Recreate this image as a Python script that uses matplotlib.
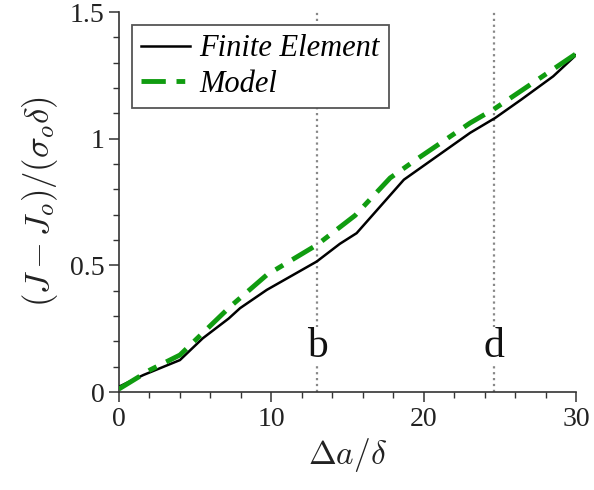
import matplotlib
matplotlib.use('Agg')
import matplotlib.pyplot as plt
from matplotlib.ticker import MultipleLocator, FuncFormatter

plt.rcParams['font.family'] = 'Liberation Serif'
plt.rcParams['mathtext.fontset'] = 'cm'

# Finite element result (black)
fe_x = [0, 1.6, 4.0, 5.5, 7.2, 7.95, 9.7, 12.98, 14.5, 15.6, 18.7, 23.05, 24.7, 26.4, 28.5, 30]
fe_y = [0.021, 0.067, 0.126, 0.212, 0.29, 0.331, 0.403, 0.515, 0.585, 0.627, 0.838, 1.023, 1.082, 1.154, 1.246, 1.33]

# Model (green)
mod_x = [0, 2.04, 4.0, 7.3, 9.7, 13.0, 15.5, 17.8, 19.5, 23.05, 24.7, 30]
mod_y = [0.012, 0.087, 0.146, 0.337, 0.462, 0.581, 0.697, 0.845, 0.917, 1.062, 1.12, 1.335]

marks_x = [13.0, 24.6]
marks_lbl = ['b', 'd']

fig = plt.figure(figsize=(5.94, 4.9), dpi=100)
ax = fig.add_axes([0.2003, 0.2, 0.7694, 0.7755])

for xv, lb in zip(marks_x, marks_lbl):
    ax.axvline(xv, color='#888888', ls=':', lw=1.6, zorder=1)
    ax.text(xv, 0.14, lb, ha='center', va='baseline', fontsize=30, color='#111111',
            bbox=dict(facecolor='white', edgecolor='none', pad=0), zorder=2)

ax.plot(fe_x, fe_y, color='black', lw=1.8, label='Finite Element', zorder=3)
ax.plot(mod_x, mod_y, color='#109c10', lw=3.5, dashes=(5, 2.2, 1.8, 2.2),
        label='Model', zorder=4)

ax.set_xlim(0, 30)
ax.set_ylim(0, 1.5)
ax.xaxis.set_major_locator(MultipleLocator(10))
ax.xaxis.set_minor_locator(MultipleLocator(2))
ax.yaxis.set_major_locator(MultipleLocator(0.5))
ax.yaxis.set_minor_locator(MultipleLocator(0.1))
ax.xaxis.set_major_formatter(FuncFormatter(lambda v, p: '%g' % v))
ax.yaxis.set_major_formatter(FuncFormatter(lambda v, p: '%g' % v))

for s in ['top', 'right']:
    ax.spines[s].set_visible(False)
for s in ['left', 'bottom']:
    ax.spines[s].set_color('#333333')
    ax.spines[s].set_linewidth(1.2)
ax.tick_params(which='major', direction='out', length=7, width=1.1, colors='#333333',
               labelsize=20, labelcolor='#222222')
ax.tick_params(which='minor', direction='out', length=4, width=1.0, colors='#333333')

ax.set_xlabel(r'$\Delta a/\delta$', fontsize=24, color='#222222', labelpad=3)
ax.set_ylabel(r'$(J-J_o)/(\sigma_o\delta)$', fontsize=25, color='#222222', labelpad=7)

leg = ax.legend(loc='upper left', bbox_to_anchor=(0.028, 0.965),
                prop={'style': 'italic', 'size': 22, 'family': 'Liberation Serif'},
                fancybox=False, framealpha=1, edgecolor='#555555',
                handlelength=1.6, handletextpad=0.3, borderpad=0.3, labelspacing=0.2,
                borderaxespad=0)
leg.get_frame().set_linewidth(1.3)

fig.savefig('out.png', dpi=100)
